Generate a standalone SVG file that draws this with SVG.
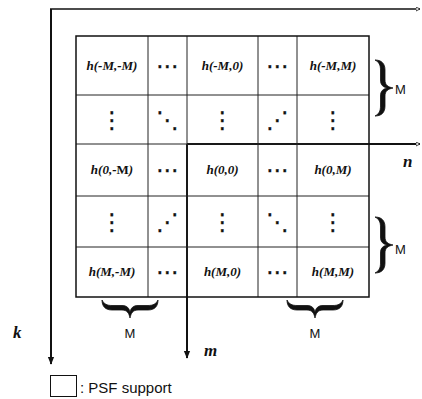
<svg xmlns="http://www.w3.org/2000/svg" width="422" height="399" viewBox="0 0 422 399">
<style>
.grid{stroke:#222;stroke-width:1;fill:none}
.border{stroke:#111;stroke-width:1.5;fill:none}
.axis{stroke:#111;stroke-width:2;fill:none}
.thin{stroke:#111;stroke-width:1.5;fill:none}
.h{font-family:"Liberation Serif",serif;font-weight:bold;font-style:italic;font-size:13px;text-anchor:middle;fill:#111}
.dots{font-family:"DejaVu Sans",sans-serif;font-size:23px;text-anchor:middle;fill:#111;stroke:#111;stroke-width:0.3}
.lbl{font-family:"Liberation Serif",serif;font-style:italic;font-weight:bold;font-size:17px;fill:#111}
.m{font-family:"Liberation Sans",Arial,sans-serif;font-size:13px;fill:#111}
.brace{fill:#111;stroke:#111;stroke-width:0.8;stroke-linejoin:round}
</style>
<defs>
<marker id="open" viewBox="0 0 10 10" refX="9" refY="5" markerWidth="5" markerHeight="5" orient="auto" markerUnits="userSpaceOnUse">
<path d="M1,1 L9,5 L1,9 Z" fill="#fff" stroke="#111" stroke-width="1.5"/>
</marker>
<marker id="solid" viewBox="0 0 10 10" refX="9" refY="5" markerWidth="8" markerHeight="8" orient="auto" markerUnits="userSpaceOnUse">
<path d="M0,1 L10,5 L0,9 Z" fill="#111"/>
</marker>
<path id="br" d="M0,0 C6,0 10,3 10,10 L10,20 C10,25 13,27 18,28 C13,29 10,31 10,36 L10,46 C10,53 6,56 0,56 C4,54 5.5,51 5.5,46 L5.5,36 C5.5,31 8,29 12,28 C8,27 5.5,25 5.5,20 L5.5,10 C5.5,5 4,2 0,0 Z"/>
</defs>

<g id="connectors">
<line class="thin" x1="50" y1="9" x2="420" y2="9" marker-end="url(#open)"/>
<line class="axis" x1="51" y1="9" x2="51" y2="364" marker-end="url(#solid)"/>
<line class="axis" x1="187" y1="144" x2="420" y2="144" marker-end="url(#open)"/>
<line class="axis" x1="187" y1="144" x2="187" y2="358" marker-end="url(#solid)"/>
</g>

<g id="grid">
<line class="grid" x1="148" y1="36" x2="148" y2="297"/>
<line class="grid" x1="187" y1="36" x2="187" y2="297"/>
<line class="grid" x1="258" y1="36" x2="258" y2="297"/>
<line class="grid" x1="297" y1="36" x2="297" y2="297"/>
<line class="grid" x1="76" y1="95" x2="369" y2="95"/>
<line class="grid" x1="76" y1="144" x2="369" y2="144"/>
<line class="grid" x1="76" y1="196" x2="369" y2="196"/>
<line class="grid" x1="76" y1="247" x2="369" y2="247"/>
<rect class="border" x="76" y="36" width="293" height="261"/>
</g>

<g id="cells">
<text class="h" x="112" y="70">h(-M,-M)</text>
<text class="dots" x="167.5" y="74">⋯</text>
<text class="h" x="222.5" y="70">h(-M,0)</text>
<text class="dots" x="277.5" y="74">⋯</text>
<text class="h" x="333" y="70">h(-M,M)</text>

<text class="dots" x="112" y="128">⋮</text>
<text class="dots" x="167.5" y="128">⋱</text>
<text class="dots" x="222.5" y="128">⋮</text>
<text class="dots" x="277.5" y="128">⋰</text>
<text class="dots" x="333" y="128">⋮</text>

<text class="h" x="112" y="174">h(0,-<tspan font-style="normal">M</tspan>)</text>
<text class="dots" x="167.5" y="178">⋯</text>
<text class="h" x="222.5" y="174">h(0,0)</text>
<text class="dots" x="277.5" y="178">⋯</text>
<text class="h" x="333" y="174">h(0,M)</text>

<text class="dots" x="112" y="230">⋮</text>
<text class="dots" x="167.5" y="230">⋰</text>
<text class="dots" x="222.5" y="230">⋮</text>
<text class="dots" x="277.5" y="230">⋱</text>
<text class="dots" x="333" y="230">⋮</text>

<text class="h" x="112" y="276">h(M,-M)</text>
<text class="dots" x="167.5" y="280">⋯</text>
<text class="h" x="222.5" y="276">h(M,0)</text>
<text class="dots" x="277.5" y="280">⋯</text>
<text class="h" x="333" y="276">h(M,M)</text>
</g>

<g id="braces">
<use href="#br" class="brace" transform="translate(375,60)"/>
<use href="#br" class="brace" transform="translate(375,217)"/>
<use href="#br" class="brace" transform="translate(158,300) rotate(90)"/>
<use href="#br" class="brace" transform="translate(343,300) rotate(90)"/>
<text class="m" x="395" y="94">M</text>
<text class="m" x="395" y="254">M</text>
<text class="m" x="130" y="338" text-anchor="middle">M</text>
<text class="m" x="315" y="338" text-anchor="middle">M</text>
</g>

<g id="axis-labels">
<text class="lbl" x="403" y="167">n</text>
<text class="lbl" x="204" y="356">m</text>
<text class="lbl" x="13" y="338">k</text>
</g>

<g id="legend">
<rect x="50.5" y="375.5" width="26" height="21" fill="#fff" stroke="#111" stroke-width="1"/>
<text x="80" y="393" font-family="Liberation Sans, Arial, sans-serif" font-size="15" fill="#111">: PSF support</text>
</g>
</svg>
